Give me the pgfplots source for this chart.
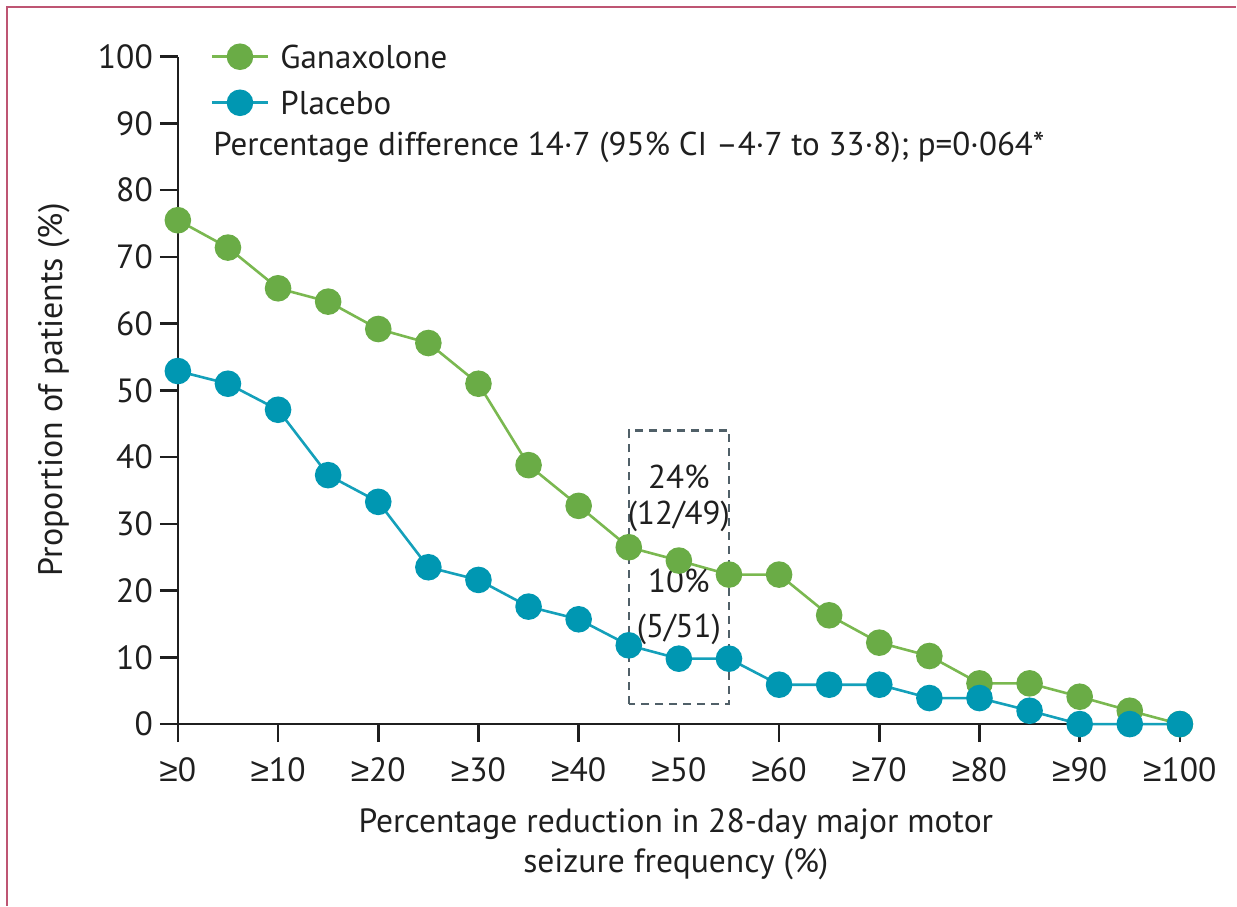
\documentclass[border=0pt]{standalone}
\usepackage{pgfplots}
\pgfplotsset{compat=1.18}
\usepackage{fontspec}
\setmainfont{PT Sans}
\newfontfamily\symfont{Liberation Sans}
\newcommand{\atleast}{{\symfont ≥}}

\definecolor{ganaline}{RGB}{122,184,80}
\definecolor{ganamark}{RGB}{106,172,70}
\definecolor{placline}{RGB}{20,160,186}
\definecolor{placmark}{RGB}{0,151,178}
\definecolor{boxgray}{RGB}{80,96,104}
\definecolor{framecol}{RGB}{190,85,115}

\begin{document}
\begin{tikzpicture}
\begin{axis}[
    scale only axis,
    width=501.5pt, height=334pt,
    xmin=0, xmax=100, ymin=0, ymax=100,
    axis x line=bottom, axis y line=left,
    axis line style={line width=1.3pt, color=black!88, -},
    tick style={line width=1.3pt, color=black!88},
    tick align=outside, major tick length=9pt,
    xtick={0,10,...,100},
    xticklabels={\atleast0,\atleast10,\atleast20,\atleast30,\atleast40,\atleast50,\atleast60,\atleast70,\atleast80,\atleast90,\atleast100},
    xticklabel style={yshift=-4pt},
    ytick={0,10,...,100},
    /pgf/number format/assume math mode=true,
    ticklabel style={font=\fontsize{16.8}{19}\selectfont, text=black!88},
    clip=false,
]
% frame and page size
\path (axis cs:-17.75,-27.25) rectangle (axis cs:105.6,108.5);
\draw[framecol, line width=1pt] (axis cs:-17.05,-27.25) -- (axis cs:-17.05,107.5) -- (axis cs:105.6,107.5);

% highlighted box
\draw[boxgray, line width=1.2pt, dash pattern=on 4pt off 3pt] (axis cs:45,3) rectangle (axis cs:55,44);

% Ganaxolone (n=49)
\addplot[ganaline, line width=1.3pt, mark=*, mark size=6pt,
         mark options={fill=ganamark, draw=ganamark}] coordinates {
  (0,75.5) (5,71.4) (10,65.3) (15,63.3) (20,59.2) (25,57.1) (30,51.0)
  (35,38.8) (40,32.7) (45,26.5) (50,24.5) (55,22.4) (60,22.4) (65,16.3)
  (70,12.2) (75,10.2) (80,6.1) (85,6.1) (90,4.1) (95,2.0) (100,0)
};
% Placebo (n=51)
\addplot[placline, line width=1.3pt, mark=*, mark size=6pt,
         mark options={fill=placmark, draw=placmark}] coordinates {
  (0,52.9) (5,51.0) (10,47.1) (15,37.3) (20,33.3) (25,23.5) (30,21.6)
  (35,17.6) (40,15.7) (45,11.8) (50,9.8) (55,9.8) (60,5.9) (65,5.9)
  (70,5.9) (75,3.9) (80,3.9) (85,2.0) (90,0) (95,0) (100,0)
};

% legend
\addplot[ganaline, line width=1.3pt, mark=*, mark size=6pt, mark indices={2},
         mark options={fill=ganamark, draw=ganamark}] coordinates {(3.4,100) (6.2,100) (9.0,100)};
\addplot[placline, line width=1.3pt, mark=*, mark size=6pt, mark indices={2},
         mark options={fill=placmark, draw=placmark}] coordinates {(3.4,93.1) (6.2,93.1) (9.0,93.1)};

\begin{scope}[every node/.style={font=\fontsize{16.5}{19}\selectfont, text=black!88, inner sep=0pt}]
\node[anchor=west] at (axis cs:10.2,100) {Ganaxolone};
\node[anchor=west] at (axis cs:10.2,93.1) {Placebo};
\node[anchor=west] at (axis cs:3.5,86.4) {Percentage difference 14·7 (95\% CI –4·7 to 33·8); p=0·064*};

\node at (axis cs:50,37.0) {24\%};
\node at (axis cs:50,31.1) {(12/49)};
\node at (axis cs:50,21.4) {10\%};
\node at (axis cs:50,14.2) {(5/51)};

\node[rotate=90, font=\fontsize{17}{19}\selectfont] at (axis cs:-12.3,50.1) {Proportion of patients (\%)};
\node[align=center, font=\fontsize{16.8}{20}\selectfont] at (axis cs:49.7,-18.0)
  {Percentage reduction in 28-day major motor\\seizure frequency (\%)};
\end{scope}
\end{axis}
\end{tikzpicture}
\end{document}
